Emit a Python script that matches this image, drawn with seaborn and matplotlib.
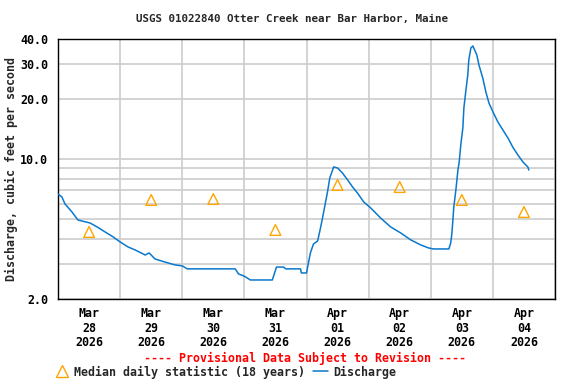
"""USGS style hydrograph: Otter Creek near Bar Harbor."""

import pandas as pd
import matplotlib
matplotlib.use('Agg')
import matplotlib.pyplot as plt
import matplotlib.dates as mdates
from matplotlib.ticker import FixedLocator, FixedFormatter
from matplotlib.lines import Line2D
import seaborn as sns

start = pd.Timestamp('2026-03-28 00:00')

# hours since Mar 28 00:00, discharge in cfs
hours = [0, 1.5, 2.7, 5.4, 7.7, 12.4, 15.1, 18.2, 21.3, 24.0, 27.1, 29.8,
         33.7, 35.2, 37.5, 41.4, 45.3, 48.0, 49.9, 68.5, 69.7, 72.0, 74.3,
         82.8, 84.4, 87.1, 88.0, 93.7, 94.0, 96.0, 97.5, 98.7, 100.3, 101.4,
         102.2, 103.0, 104.1, 105.0, 106.5, 108.0, 109.9, 111.9, 113.8,
         115.7, 118.1, 120.8, 124.6, 128.5, 132.4, 136.3, 140.1, 143.2,
         145.0, 151.0, 151.7, 152.1, 152.5, 152.9, 153.7, 154.5, 155.0,
         155.6, 156.4, 156.8, 157.5, 158.3, 158.7, 159.5, 160.3, 160.6,
         161.8, 162.6, 164.1, 165.3, 166.5, 168.0, 169.9, 171.9, 173.8,
         175.7, 177.7, 179.6, 181.5, 181.9]
discharge = [6.71, 6.48, 5.98, 5.45, 4.97, 4.80, 4.59, 4.33, 4.09, 3.86, 3.64,
             3.52, 3.32, 3.40, 3.17, 3.06, 2.96, 2.93, 2.83, 2.83, 2.67, 2.60,
             2.49, 2.49, 2.89, 2.89, 2.83, 2.83, 2.70, 2.70, 3.40, 3.77, 3.90,
             4.53, 5.09, 5.77, 6.86, 8.07, 9.16, 9.05, 8.54, 7.88, 7.27, 6.78,
             6.12, 5.71, 5.09, 4.59, 4.28, 3.95, 3.73, 3.60, 3.56, 3.56, 3.81,
             4.18, 4.86, 5.77, 7.02, 8.84, 9.70, 11.8, 14.35, 18.07, 21.7,
             26.4, 31.4, 36.1, 36.9, 36.1, 33.3, 29.7, 25.5, 21.7, 19.1, 17.3,
             15.4, 14.0, 12.8, 11.5, 10.5, 9.70, 9.16, 8.84]

median_days = ['2026-03-28', '2026-03-29', '2026-03-30', '2026-03-31',
               '2026-04-01', '2026-04-02', '2026-04-03', '2026-04-04']
median_cfs = [4.33, 6.26, 6.33, 4.43, 7.44, 7.27, 6.26, 5.45]

y_grid = [2, 3, 4, 5, 6, 7, 8, 9, 10, 20, 30, 40]
y_labels = ['2.0', '', '', '', '', '', '', '', '10.0', '20.0', '30.0', '40.0']

line_color = '#0a78cc'
tri_color = '#ffa500'

sns.set_style('white')
plt.rcParams['font.family'] = ['DejaVu Sans Mono']
plt.rcParams['font.weight'] = 'bold'

df = pd.DataFrame({'time': start + pd.to_timedelta(hours, unit='h'),
                   'cfs': discharge})
med = pd.DataFrame({'time': pd.to_datetime(median_days) + pd.Timedelta(hours=12),
                    'cfs': median_cfs})

fig = plt.figure(figsize=(5.76, 3.84), dpi=100)
ax = fig.add_axes([58 / 576, 1 - 299 / 384, 497 / 576, 260 / 384])

sns.lineplot(data=df, x='time', y='cfs', ax=ax, color=line_color,
             linewidth=1.1, zorder=3)
sns.scatterplot(data=med, x='time', y='cfs', ax=ax, marker='^', s=60,
                facecolor='none', edgecolor=tri_color, linewidth=1.0,
                zorder=4)

ax.set_yscale('log')
ax.set_ylim(2, 40)
ax.yaxis.set_major_locator(FixedLocator(y_grid))
ax.yaxis.set_major_formatter(FixedFormatter(y_labels))
ax.yaxis.set_minor_locator(FixedLocator([]))

ax.set_xlim(start, start + pd.Timedelta(days=8))
ax.xaxis.set_major_locator(mdates.HourLocator(byhour=12))
ax.xaxis.set_major_formatter(mdates.DateFormatter('%b\n%d\n%Y'))
ax.xaxis.set_minor_locator(mdates.DayLocator())

ax.grid(False)
ax.grid(which='major', axis='y', color='#cccccc', linewidth=1.2)
ax.grid(which='minor', axis='x', color='#cccccc', linewidth=1.2)
ax.set_axisbelow(True)

ax.tick_params(which='both', length=0, labelsize=8.4, colors='black')
ax.tick_params(axis='y', pad=7)
ax.tick_params(axis='x', pad=6)
for lab in ax.get_xticklabels():
    lab.set_linespacing(1.15)

for sp in ax.spines.values():
    sp.set_color('black')
    sp.set_linewidth(1.0)

ax.set_xlabel('')
ax.set_ylabel('Discharge, cubic feet per second', fontsize=8.4,
              fontweight='bold')
ax.yaxis.set_label_coords(-40 / 497, 0.5)

fig.text(292 / 576, 1 - 19 / 384, 'USGS 01022840 Otter Creek near Bar Harbor, Maine',
         ha='center', va='center', fontsize=7.8, fontweight='bold')
fig.text(305 / 576, 1 - 358 / 384, '---- Provisional Data Subject to Revision ----',
         ha='center', va='center', fontsize=8.4, fontweight='bold', color='red')

handles = [Line2D([], [], marker='^', linestyle='none', markerfacecolor='none',
                  markeredgecolor=tri_color, markersize=8),
           Line2D([], [], color=line_color, linewidth=1.1)]
fig.legend(handles=handles,
           labels=['Median daily statistic (18 years)', 'Discharge'],
           loc='center', bbox_to_anchor=(225 / 576, 1 - 372 / 384), ncol=2,
           frameon=False, fontsize=8.4, handlelength=1.3, handletextpad=0.4,
           columnspacing=0.7, borderpad=0, borderaxespad=0)

fig.savefig('out.png', dpi=100)
plt.close(fig)
